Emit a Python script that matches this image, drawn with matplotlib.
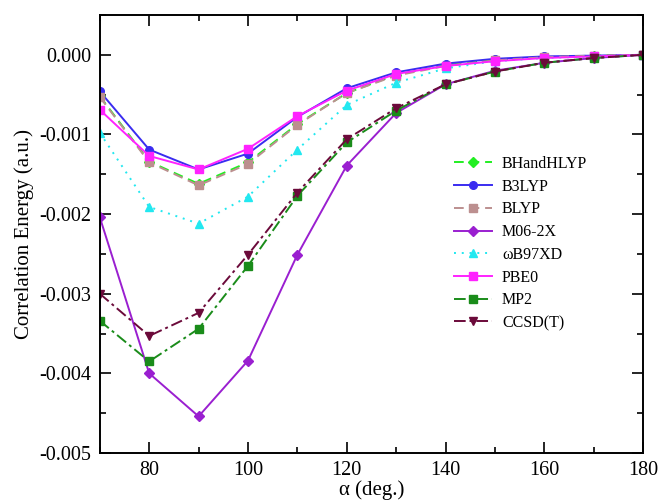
import matplotlib
matplotlib.use("Agg")
import matplotlib.pyplot as plt
from matplotlib.ticker import MultipleLocator, FormatStrFormatter

plt.rcParams['font.family'] = ['Liberation Serif', 'DejaVu Serif']
plt.rcParams['mathtext.fontset'] = 'stix'

alpha = [70, 80, 90, 100, 110, 120, 130, 140, 150, 160, 170, 180]

bhandhlyp = [-0.00052, -0.00134, -0.00162, -0.00135, -0.00087, -0.00048, -0.00025, -0.00013, -0.00006, -0.00003, -0.00001, 0.0]
b3lyp     = [-0.00046, -0.00119, -0.00144, -0.00124, -0.00078, -0.00042, -0.00022, -0.00011, -0.00005, -0.00002, -0.00001, 0.0]
blyp      = [-0.00053, -0.00135, -0.00164, -0.00137, -0.00088, -0.00048, -0.00026, -0.00014, -0.00007, -0.00003, -0.00001, 0.0]
m062x     = [-0.00204, -0.00400, -0.00454, -0.00384, -0.00251, -0.00139, -0.00073, -0.00037, -0.00020, -0.00010, -0.00004, 0.0]
wb97xd    = [-0.00098, -0.00191, -0.00212, -0.00178, -0.00119, -0.00063, -0.00035, -0.00017, -0.00008, -0.00004, -0.00002, 0.0]
pbe0      = [-0.00069, -0.00127, -0.00144, -0.00118, -0.00077, -0.00045, -0.00024, -0.00014, -0.00008, -0.00004, -0.00002, 0.0]
mp2       = [-0.00334, -0.00385, -0.00344, -0.00265, -0.00177, -0.00110, -0.00070, -0.00037, -0.00021, -0.00010, -0.00004, 0.0]
ccsdt     = [-0.00300, -0.00353, -0.00324, -0.00251, -0.00173, -0.00106, -0.00067, -0.00037, -0.00021, -0.00010, -0.00004, 0.0]

series = [
    ("BHandHLYP", bhandhlyp, "#22ee22", "D", (0, (5, 3))),
    ("B3LYP", b3lyp, "#3a2cf0", "o", "-"),
    ("BLYP", blyp, "#bc8f8f", "s", (0, (5, 3))),
    ("M06-2X", m062x, "#9a1fd0", "D", "-"),
    ("\u03c9B97XD", wb97xd, "#22e8f0", "^", (0, (1, 3))),
    ("PBE0", pbe0, "#ff22ff", "s", "-"),
    ("MP2", mp2, "#1a8c1a", "s", (0, (6, 2, 1.5, 2))),
    ("CCSD(T)", ccsdt, "#6b0a3a", "v", (0, (6, 2, 1.5, 2))),
]

fig = plt.figure(figsize=(6.61, 5.0), dpi=100)
ax = fig.add_axes([0.151, 0.094, 0.822, 0.876])

for name, vals, col, mk, ls in series:
    ax.plot(alpha, vals, color=col, marker=mk, linestyle=ls, linewidth=1.4,
            markersize=5.5 if mk != "D" else 5, markeredgecolor=col, label=name)

ax.set_xlim(70, 180)
ax.set_ylim(-0.005, 0.0005)
ax.xaxis.set_major_locator(MultipleLocator(20))
ax.xaxis.set_minor_locator(MultipleLocator(10))
ax.yaxis.set_major_locator(MultipleLocator(0.001))
ax.yaxis.set_minor_locator(MultipleLocator(0.0005))
ax.yaxis.set_major_formatter(FormatStrFormatter('%.3f'))
ax.tick_params(which='both', direction='in', top=True, right=True, labelsize=14.5, width=1.2)
ax.tick_params(which='major', length=8, pad=6)
ax.tick_params(which='minor', length=4)
for s in ax.spines.values():
    s.set_linewidth(1.4)

ax.set_xlabel("\u03b1 (deg.)", fontsize=15, labelpad=0)
ax.set_ylabel("Correlation Energy (a.u.)", fontsize=15, labelpad=4)

leg = ax.legend(loc='upper left', bbox_to_anchor=(0.652, 0.678), frameon=False,
                fontsize=11.5, handlelength=2.4, handletextpad=0.6, labelspacing=0.42,
                borderaxespad=0, borderpad=0)

fig.savefig("out.png", dpi=100)
